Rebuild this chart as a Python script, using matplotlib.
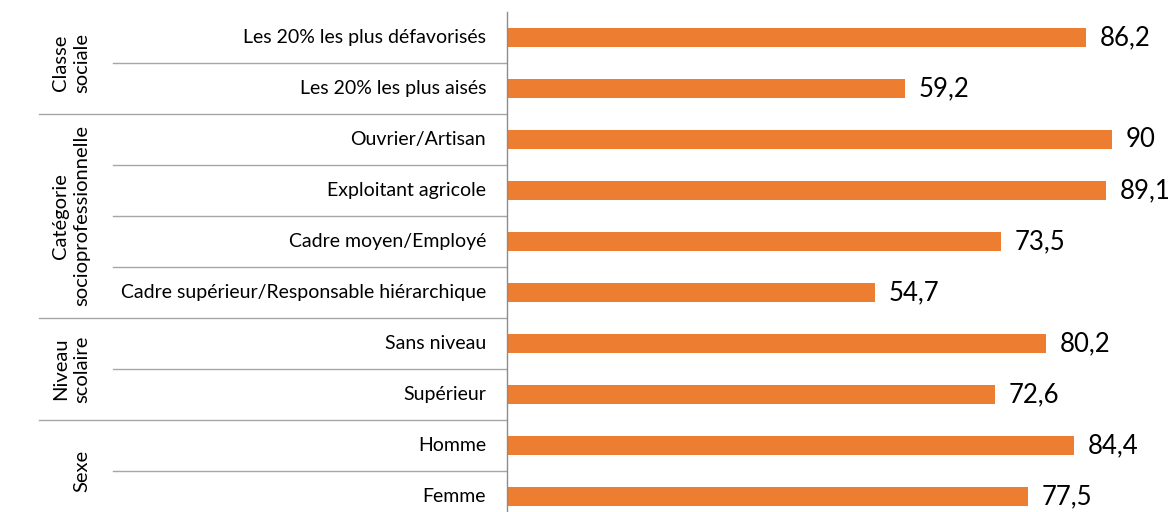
import matplotlib.pyplot as plt
from matplotlib.transforms import blended_transform_factory

plt.rcParams['font.family'] = ['Lato', 'DejaVu Sans']

groups = ['Classe\nsociale', 'Catégorie\nsocioprofessionnelle', 'Niveau\nscolaire', 'Sexe']
group_sizes = [2, 4, 2, 2]
categories = [
    'Les 20% les plus défavorisés',
    'Les 20% les plus aisés',
    'Ouvrier/Artisan',
    'Exploitant agricole',
    'Cadre moyen/Employé',
    'Cadre supérieur/Responsable hiérarchique',
    'Sans niveau',
    'Supérieur',
    'Homme',
    'Femme',
]
values = [86.2, 59.2, 90, 89.1, 73.5, 54.7, 80.2, 72.6, 84.4, 77.5]

W, H = 1169, 512
fig = plt.figure(figsize=(W / 100, H / 100), dpi=100)
ax = fig.add_axes([507 / W, 0, 662 / W, 500 / H])

ypos = list(range(len(categories)))
ax.barh(ypos, values, height=0.39, color='#ED7D31', edgecolor='none')
ax.set_xlim(0, 98.5)
ax.set_ylim(-0.5 + 500 / 51, -0.5)

for y, v in zip(ypos, values):
    ax.annotate(f'{v:g}'.replace('.', ','), (v, y), xytext=(10, 0), textcoords='offset points',
                ha='left', va='center', fontsize=18.5, color='#000000')

for s in ['top', 'right', 'bottom']:
    ax.spines[s].set_visible(False)
ax.spines['left'].set_color('#8C8C8C')
ax.spines['left'].set_linewidth(1)
ax.set_xticks([])
ax.set_yticks([])

tr = blended_transform_factory(fig.transFigure, ax.transData)

# category labels
for y, c in zip(ypos, categories):
    ax.text(486 / W, y, c, transform=tr, ha='right', va='center', fontsize=14, color='#000000')

# separators and group labels
start = 0
for g, n in zip(groups, group_sizes):
    for k in range(1, n):
        ax.plot([113 / W, 506 / W], [start + k - 0.5] * 2, transform=tr, color='#A6A6A6',
                lw=1, clip_on=False)
    end = start + n
    if end < len(categories):
        ax.plot([39 / W, 506 / W], [end - 0.5] * 2, transform=tr, color='#A6A6A6',
                lw=1, clip_on=False)
    ax.text(90 / W, (start + end - 1) / 2, g, transform=tr, rotation=90, ha='right',
            va='center', multialignment='center', fontsize=14.5, color='#000000',
            linespacing=1.3)
    start = end

fig.savefig('out.png', dpi=100)
